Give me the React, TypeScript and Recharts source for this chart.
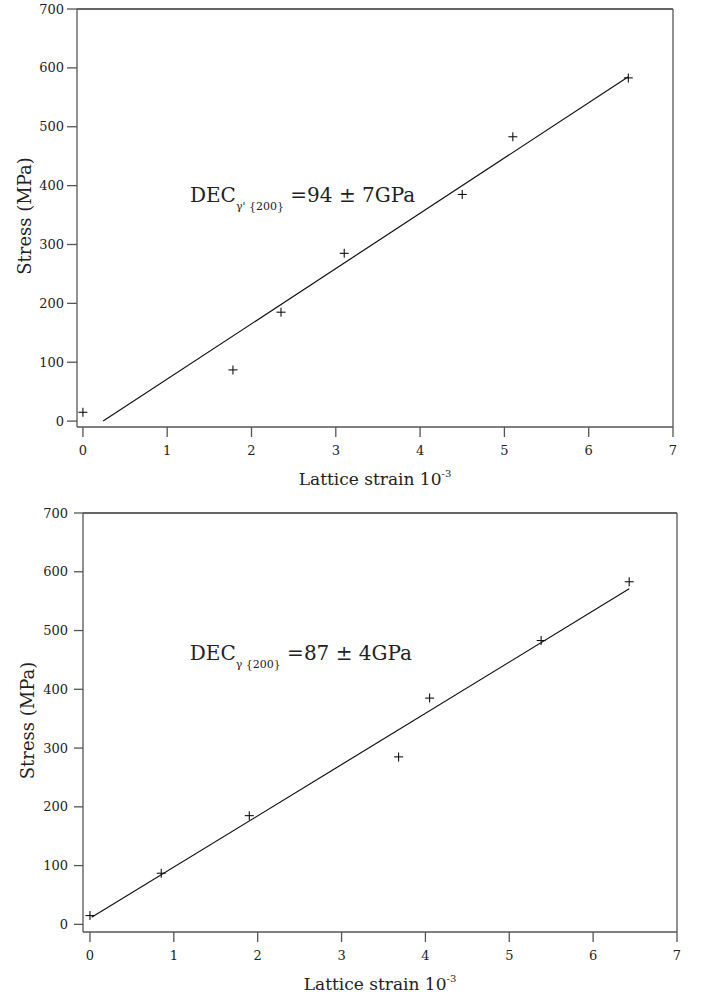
import React from 'react';
import {
  ScatterChart,
  Scatter,
  XAxis,
  YAxis,
  ReferenceLine,
  ReferenceDot,
  Label,
} from 'recharts';

// ---- Data ----
const xTicks = [0, 1, 2, 3, 4, 5, 6, 7];
const yTicks = [0, 100, 200, 300, 400, 500, 600, 700];

// Chart 1: gamma' {200}
const strainGammaPrime = [0, 1.78, 2.35, 3.1, 4.5, 5.1, 6.47];
const stressGammaPrime = [15, 87, 185, 285, 385, 483, 583];
const fitGammaPrimeX = [0.24, 6.47];
const fitGammaPrimeY = [0, 585];

// Chart 2: gamma {200}
const strainGamma = [0, 0.85, 1.9, 3.68, 4.05, 5.38, 6.43];
const stressGamma = [15, 87, 185, 285, 385, 483, 583];
const fitGammaX = [0.02, 6.43];
const fitGammaY = [12, 571];

const FONT = '"DejaVu Serif", "Liberation Serif", serif';
const AXIS_COLOR = '#555';
const TEXT_COLOR = '#222';

const toPoints = (xs: number[], ys: number[]) => xs.map((x, i) => ({ x, y: ys[i] }));

const PlusShape = (props: any) => {
  const { cx, cy } = props;
  if (cx == null || cy == null) return <g />;
  const s = 4.5;
  return (
    <g>
      <line x1={cx - s} y1={cy} x2={cx + s} y2={cy} stroke="#111" strokeWidth={1.1} />
      <line x1={cx} y1={cy - s} x2={cx} y2={cy + s} stroke="#111" strokeWidth={1.1} />
    </g>
  );
};

const NoShape = () => <g />;

interface PanelProps {
  top: number;
  height: number;
  margin: { top: number; right: number; bottom: number; left: number };
  yAxisWidth: number;
  yTickSize: number;
  yTickMargin: number;
  xDomainMin: number;
  yDomainMin: number;
  points: { x: number; y: number }[];
  fit: { x: number; y: number }[];
  annot: { x: number; y: number; sub: string; rest: string };
}

const Panel = (p: PanelProps) => {
  const yLabel = (props: any) => {
    const vb = props.viewBox || {};
    const cx = 24 + (p.margin.left - 27) * 0.6;
    const cy = vb.y + vb.height / 2 - 2;
    return (
      <text
        x={cx}
        y={cy}
        transform={`rotate(-90, ${cx}, ${cy})`}
        textAnchor="middle"
        dominantBaseline="central"
        fontFamily={FONT}
        fontSize={18}
        fill={TEXT_COLOR}
      >
        Stress (MPa)
      </text>
    );
  };
  const xLabel = (props: any) => {
    const vb = props.viewBox || {};
    const cx = vb.x + vb.width / 2;
    const cy = vb.y + 58;
    return (
      <text x={cx} y={cy} textAnchor="middle" fontFamily={FONT} fontSize={17} fill={TEXT_COLOR}>
        Lattice strain 10
        <tspan fontSize={10} dy={-8}>
          -3
        </tspan>
      </text>
    );
  };
  const annotLabel = (props: any) => {
    const vb = props.viewBox || {};
    const x = vb.x + (vb.width || 0) / 2;
    const y = vb.y + (vb.height || 0) / 2;
    return (
      <text x={x} y={y} fontFamily={FONT} fontSize={20} fill={TEXT_COLOR}>
        DEC
        <tspan fontSize={11} dy={8}>
          {p.annot.sub}
        </tspan>
        <tspan dy={-8}>{p.annot.rest}</tspan>
      </text>
    );
  };
  return (
    <div style={{ position: 'absolute', left: 0, top: p.top, width: 702, height: p.height }}>
      <ScatterChart width={702} height={p.height} margin={p.margin}>
        <XAxis
          type="number"
          dataKey="x"
          domain={[p.xDomainMin, 7]}
          ticks={xTicks}
          allowDataOverflow
          height={45}
          tickSize={10}
          tickMargin={9}
          stroke={AXIS_COLOR}
          strokeWidth={1.3}
          tick={{ fill: TEXT_COLOR, fontFamily: FONT, fontSize: 13 }}
        >
          <Label content={xLabel} />
        </XAxis>
        <YAxis
          type="number"
          dataKey="y"
          domain={[p.yDomainMin, 700]}
          ticks={yTicks}
          allowDataOverflow
          width={p.yAxisWidth}
          tickSize={p.yTickSize}
          tickMargin={p.yTickMargin}
          stroke={AXIS_COLOR}
          strokeWidth={1.3}
          tick={{ fill: TEXT_COLOR, fontFamily: FONT, fontSize: 13 }}
        >
          <Label content={yLabel} />
        </YAxis>
        <ReferenceLine y={700} stroke="#333" strokeWidth={1.3} />
        <ReferenceLine x={7} stroke={AXIS_COLOR} strokeWidth={1.3} />
        <Scatter
          data={p.fit}
          line={{ stroke: '#111', strokeWidth: 1.2 }}
          shape={NoShape}
          isAnimationActive={false}
        />
        <Scatter data={p.points} shape={PlusShape} isAnimationActive={false} />
        <ReferenceDot
          x={p.annot.x}
          y={p.annot.y}
          r={0}
          fill="none"
          stroke="none"
          label={{ content: annotLabel }}
        />
      </ScatterChart>
    </div>
  );
};

export default function App() {
  return (
    <div
      style={{
        position: 'absolute',
        left: 0,
        top: 0,
        width: 702,
        height: 996,
        background: '#fff',
        fontFamily: FONT,
      }}
    >
      <Panel
        top={0}
        height={490}
        margin={{ top: 9, right: 29, bottom: 18, left: 27 }}
        yAxisWidth={50}
        yTickSize={10}
        yTickMargin={3}
        xDomainMin={-0.07}
        yDomainMin={-10}
        points={toPoints(strainGammaPrime, stressGammaPrime)}
        fit={toPoints(fitGammaPrimeX, fitGammaPrimeY)}
        annot={{ x: 1.27, y: 373, sub: "γ' {200}", rest: ' =94 ± 7GPa' }}
      />
      <Panel
        top={490}
        height={506}
        margin={{ top: 23, right: 25, bottom: 19, left: 33 }}
        yAxisWidth={50}
        yTickSize={9}
        yTickMargin={6}
        xDomainMin={-0.083}
        yDomainMin={-13}
        points={toPoints(strainGamma, stressGamma)}
        fit={toPoints(fitGammaX, fitGammaY)}
        annot={{ x: 1.19, y: 450, sub: 'γ {200}', rest: ' =87 ± 4GPa' }}
      />
    </div>
  );
}
